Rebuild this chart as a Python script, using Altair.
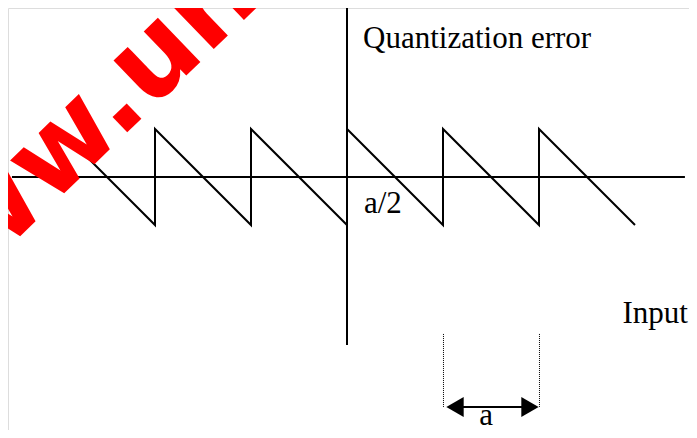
import altair as alt
import pandas as pd

# sawtooth (x in units of a, y in units of a/2)
saw_x = [-2.75, -2, -2, -1, -1, 0, 0, 1, 1, 2, 2, 3]
saw_y = [0.5, -1, 1, -1, 1, -1, 1, -1, 1, -1, 1, -1]

# axes extents
haxis = {"x": -3.49, "x2": 3.52, "y": 0}
vaxis = {"x": 0, "y": 3.52, "y2": -3.5}

# labels
lab_text = ["Quantization error", "Input", "a/2"]
lab_x = [0.167, 2.87, 0.177]
lab_y = [2.69, -3.04, -0.75]

a_label = {"t": "a", "x": 1.45, "y": -5.17}

# period marker
dot_x = [1.005, 2.005]
dot_y0 = -3.27
dot_y1 = -4.79
arrow = {"x": 1.125, "x2": 1.906, "y": -4.79}

wm = {"t": "www.uni", "x": -4.646, "y": -3.625}

X = alt.Scale(domain=[-3.53125, 3.5625], nice=False, zero=False)
Y = alt.Scale(domain=[-5.2708, 3.5208], nice=False, zero=False)

saw_df = pd.DataFrame({"x": saw_x, "y": saw_y, "o": list(range(len(saw_x)))})
saw = alt.Chart(saw_df).mark_line(color="black", strokeWidth=2).encode(
    x=alt.X("x:Q", scale=X, axis=None),
    y=alt.Y("y:Q", scale=Y, axis=None),
    order="o:Q",
)

h = alt.Chart(pd.DataFrame([haxis])).mark_rule(color="black", strokeWidth=2).encode(
    x=alt.X("x:Q", scale=X, axis=None), x2="x2:Q", y=alt.Y("y:Q", scale=Y, axis=None)
)
v = alt.Chart(pd.DataFrame([vaxis])).mark_rule(color="black", strokeWidth=2).encode(
    x=alt.X("x:Q", scale=X, axis=None), y=alt.Y("y:Q", scale=Y, axis=None), y2="y2:Q"
)

labels = alt.Chart(pd.DataFrame({"t": lab_text, "x": lab_x, "y": lab_y})).mark_text(
    font="Liberation Serif", fontSize=31, align="left", baseline="alphabetic", color="black"
).encode(x=alt.X("x:Q", scale=X, axis=None), y=alt.Y("y:Q", scale=Y, axis=None), text="t:N")

alab = alt.Chart(pd.DataFrame([a_label])).mark_text(
    font="Liberation Serif", fontSize=31, align="center", baseline="alphabetic", color="black"
).encode(x=alt.X("x:Q", scale=X, axis=None), y=alt.Y("y:Q", scale=Y, axis=None), text="t:N")

dots = alt.Chart(pd.DataFrame({"x": dot_x, "y": [dot_y0] * 2, "y2": [dot_y1] * 2})).mark_rule(
    color="black", strokeWidth=1, strokeDash=[1, 1]
).encode(x=alt.X("x:Q", scale=X, axis=None), y=alt.Y("y:Q", scale=Y, axis=None), y2="y2:Q")

arr = alt.Chart(pd.DataFrame([arrow])).mark_rule(color="black", strokeWidth=2).encode(
    x=alt.X("x:Q", scale=X, axis=None), x2="x2:Q", y=alt.Y("y:Q", scale=Y, axis=None)
)
heads_df = pd.DataFrame({"x": [arrow["x"], arrow["x2"]], "y": [arrow["y"]] * 2,
                         "s": ["triangle-left", "triangle-right"]})
heads = alt.Chart(heads_df).mark_point(filled=True, color="black", size=400, opacity=1).encode(
    x=alt.X("x:Q", scale=X, axis=None), y=alt.Y("y:Q", scale=Y, axis=None),
    shape=alt.Shape("s:N", scale=alt.Scale(domain=["triangle-left", "triangle-right"],
                                           range=["triangle-left", "triangle-right"]), legend=None),
)

water = alt.Chart(pd.DataFrame([wm])).mark_text(
    font="DejaVu Sans", fontSize=112, fontWeight="bold", align="left",
    baseline="alphabetic", color="#FF0000", angle=316
).encode(x=alt.X("x:Q", scale=X, axis=None), y=alt.Y("y:Q", scale=Y, axis=None), text="t:N")

chart = alt.layer(h, v, saw, labels, alab, dots, arr, heads, water).properties(
    width=681, height=422, autosize=alt.AutoSizeParams(type="none"), padding=0
).configure_view(stroke=None).configure(background="white")

chart.save("out.html", embed_options={"renderer": "svg", "actions": False})
